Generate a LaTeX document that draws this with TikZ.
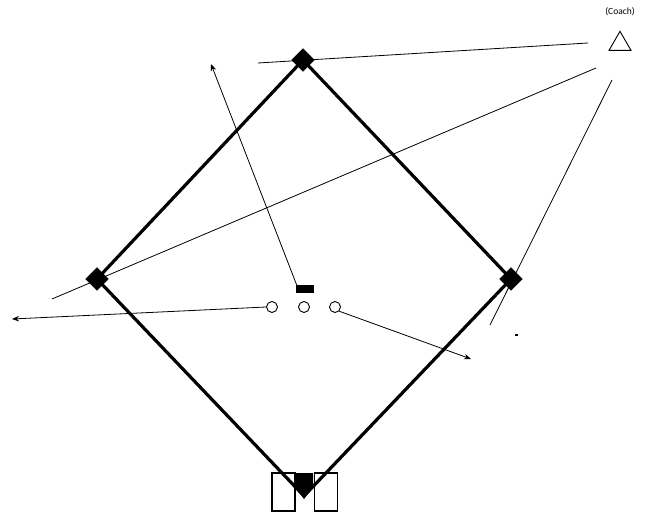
\documentclass[tikz,border=0pt]{standalone}
\usepackage{fontspec}
\setmainfont{Carlito}
\usetikzlibrary{arrows.meta,shapes.geometric}
\begin{document}
\begin{tikzpicture}[x=1pt,y=-1pt,
  basebox/.style={draw=black,fill=black,minimum size=16pt,inner sep=0pt,rotate=45},
  player/.style={draw=black,circle,minimum size=11pt,inner sep=0pt,line width=0.9pt},
  baseline/.style={line width=3.2pt,line cap=round},
  thinline/.style={line width=0.8pt},
  runarrow/.style={line width=0.8pt,-{Stealth[length=7pt,width=5.5pt]}},
  batbox/.style={draw=black,line width=1.8pt,minimum width=23pt,minimum height=38pt,inner sep=0pt}]
\useasboundingbox (0,0) rectangle (658,516);
% bases
\coordinate (homept) at (304,496);
\draw[baseline] (303,60) -- (97,279) -- (homept) -- (511,279) -- cycle;
\node[basebox] (second) at (303,60) {};
\node[basebox] (third) at (97,279) {};
\node[basebox] (first) at (511,279) {};
% batter boxes and home plate
\node[batbox] (lbox) at (283.5,492) {};
\node[batbox] (rbox) at (326,492) {};
\fill[black] (295,473) -- (313,473) -- (313,487) -- (304,499) -- (295,487) -- cycle;
\coordinate (home) at (304,485);
% coach
\node[font=\fontsize{9.5}{11}\selectfont] (coachlbl) at (620,12) {(Coach)};
\node[draw=black,isosceles triangle,isosceles triangle apex angle=60,shape border rotate=90,minimum width=20pt,minimum height=19pt,inner sep=0pt,line width=0.9pt] (coach) at (620,44) {};
% coach lines
\coordinate (c1a) at (588,43);
\coordinate (c1b) at (258,63);
\coordinate (c2a) at (596,68);
\coordinate (c2b) at (52,299);
\coordinate (c3a) at (612,80);
\coordinate (c3b) at (490,325);
\draw[thinline] (c1a) -- (c1b);
\draw[thinline] (c2a) -- (c2b);
\draw[thinline] (c3a) -- (c3b);
% players
\node[draw=black,fill=black,minimum width=17pt,minimum height=7pt,inner sep=0pt] (rubber) at (304.5,289) {};
\node[player] (p1) at (272,307) {};
\node[player] (p2) at (304,307) {};
\node[player] (p3) at (335,307) {};
% run arrows
\coordinate (e1) at (12,319);
\coordinate (e2) at (471,359);
\coordinate (e3) at (211,64);
\draw[runarrow] (p1.west) -- (e1);
\draw[runarrow] (p3.south east) -- (e2);
\draw[runarrow] (rubber.north west) ++(1,0) -- (e3);
% small mark
\node[fill=black,minimum width=3pt,minimum height=1.5pt,inner sep=0pt] (mark) at (516,335) {};
\end{tikzpicture}
\end{document}
